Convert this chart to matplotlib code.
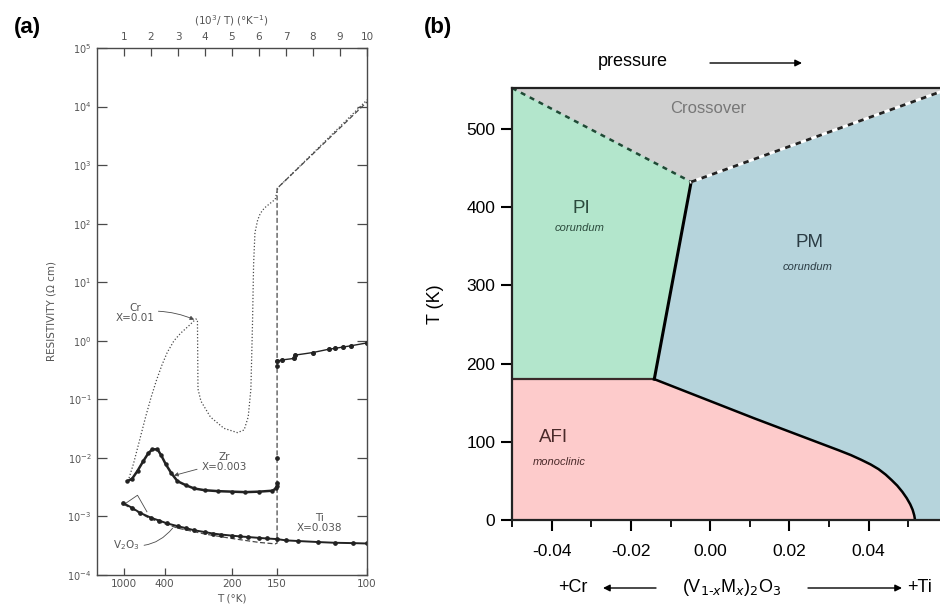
import matplotlib.pyplot as plt
from matplotlib.ticker import MultipleLocator, NullLocator, FixedLocator

plt.rcParams['font.family'] = ['Liberation Sans', 'DejaVu Sans']
plt.rcParams['axes.unicode_minus'] = False

# ---- (a) resistivity vs 10^3/T ----
cr_x = [1.15, 1.35, 1.6, 1.8, 2.0, 2.2, 2.4, 2.6, 2.85, 3.1, 3.4, 3.66, 3.72, 3.74, 3.85,
        4.2, 4.7, 5.2, 5.45, 5.6, 5.7, 5.76, 5.8, 5.85, 5.95, 6.05, 6.2, 6.4, 6.6, 6.7, 10.0]
cr_y = [4e-3, 7.9e-3, 2.2e-2, 5e-2, 0.107, 0.21, 0.38, 0.63, 1.0, 1.35, 1.8, 2.35, 2.3,
        0.15, 0.093, 0.05, 0.032, 0.027, 0.03, 0.05, 0.15, 2.0, 20, 70, 115, 150, 185, 220,
        260, 410, 1.3e4]

v2o3_x = [1.0, 2.0, 3.0, 4.0, 5.0, 6.0, 6.6, 6.67, 6.67, 10.0]
v2o3_y = [1.6e-3, 9e-4, 6.3e-4, 5.0e-4, 4.2e-4, 3.6e-4, 3.4e-4, 3.5e-4, 400, 1.2e4]
v2o3_bump_x = [1.0, 1.5, 1.85]
v2o3_bump_y = [1.6e-3, 2.3e-3, 1.2e-3]

zr_x = [1.12, 1.3, 1.5, 1.72, 1.9, 2.05, 2.24, 2.38, 2.54, 2.75, 2.98, 3.3, 3.6, 4.0,
        4.5, 5.0, 5.5, 6.0, 6.5, 6.62, 6.67]
zr_y = [4e-3, 4.4e-3, 6e-3, 8.9e-3, 1.2e-2, 1.4e-2, 1.4e-2, 1.1e-2, 7.9e-3, 5.5e-3, 4e-3,
        3.4e-3, 3.0e-3, 2.8e-3, 2.7e-3, 2.65e-3, 2.6e-3, 2.65e-3, 2.75e-3, 3.0e-3, 3.3e-3]
zr_jump_x = [6.67, 6.67, 6.67]
zr_jump_y = [3.7e-3, 1.0e-2, 0.37]
zr_met_x = [6.67, 6.85, 7.3, 7.35, 8.0, 8.6, 8.8, 9.1, 9.4, 10.0]
zr_met_y = [0.45, 0.47, 0.5, 0.57, 0.63, 0.72, 0.74, 0.78, 0.82, 0.92]

ti_x = [0.97, 1.3, 1.6, 2.0, 2.3, 2.6, 3.0, 3.3, 3.6, 4.0, 4.3, 4.6, 5.0, 5.3, 5.6, 6.0,
        6.3, 6.67, 7.0, 7.46, 8.2, 8.8, 9.5, 10.0]
ti_y = [1.7e-3, 1.4e-3, 1.15e-3, 9.5e-4, 8.5e-4, 7.6e-4, 6.8e-4, 6.3e-4, 5.8e-4, 5.4e-4,
        5.1e-4, 4.9e-4, 4.7e-4, 4.55e-4, 4.45e-4, 4.3e-4, 4.2e-4, 4.1e-4, 3.9e-4, 3.8e-4,
        3.65e-4, 3.55e-4, 3.5e-4, 3.45e-4]

top_ticks = [1, 2, 3, 4, 5, 6, 7, 8, 9, 10]
temp_pos = [1.0, 2.5, 5.0, 6.667, 10.0]
temp_labels = ['1000', '400', '200', '150', '100']

# ---- (b) phase diagram of (V1-xMx)2O3 ----
x_lo, x_hi = -0.05, 0.058
t_top = 552
afi_x = [-0.0141, 0.0111, 0.0325, 0.0355, 0.0381, 0.0405, 0.0425, 0.0443, 0.0458, 0.0472,
         0.0485, 0.0496, 0.0505, 0.0511, 0.0515, 0.0517]
afi_t = [180, 130, 89, 83, 77, 71, 65, 58, 51, 44, 36, 28, 20, 13, 6, 0]
pipm_x = [-0.0141, -0.0048]
pipm_t = [180, 432]
cross_left_x = [-0.05, -0.0048]
cross_left_t = [552, 432]
cross_right_x = [-0.0048, 0.058]
cross_right_t = [432, 547]

c_pm = '#b6d4dc'
c_pi = '#b3e6cc'
c_afi = '#fdcbcb'
c_cross = '#d0d0d0'

scan = '#4a4a4a'
fig = plt.figure(figsize=(9.4, 6.1), dpi=100)

ax1 = fig.add_axes([0.1032, 0.0574, 0.2872, 0.8639])
ax1.set_yscale('log')
ax1.set_xlim(0, 10)
ax1.set_ylim(1e-4, 1e5)
ax1.plot(cr_x, cr_y, ls=(0, (1, 1.6)), color=scan, lw=0.9)
ax1.plot(v2o3_x, v2o3_y, ls=(0, (4, 2)), color=scan, lw=0.9)
ax1.plot(v2o3_bump_x, v2o3_bump_y, color=scan, lw=0.6)
ax1.plot(zr_x, zr_y, '-', color='#222222', lw=1.8, marker='o', ms=2.2)
ax1.plot(zr_jump_x, zr_jump_y, 'o', color='#222222', ms=2.4)
ax1.plot(zr_met_x, zr_met_y, '-', color='#222222', lw=1.0, marker='o', ms=2.6)
ax1.plot(ti_x, ti_y, '-', color='#222222', lw=1.4, marker='o', ms=2.4)

for s in ax1.spines.values():
    s.set_color(scan)
    s.set_linewidth(1.0)
ax1.xaxis.tick_top()
ax1.xaxis.set_major_locator(FixedLocator(top_ticks))
ax1.xaxis.set_label_position('top')
ax1.set_xlabel('(10$^3$/ T) (°K$^{-1}$)', fontsize=7.5, color='#555555', labelpad=6,
               family='DejaVu Sans')
ax1.yaxis.set_minor_locator(NullLocator())
ax1.tick_params(axis='x', direction='in', length=6, width=0.9, color=scan, pad=4,
                labelsize=7.5, labelcolor='#555555')
ax1.tick_params(axis='y', which='both', direction='in', left=True, right=True, length=7,
                width=0.9, color=scan, pad=4, labelsize=7, labelcolor='#555555')
for lab in ax1.get_xticklabels() + ax1.get_yticklabels():
    lab.set_family('DejaVu Sans')
ax1.set_ylabel('RESISTIVITY (Ω cm)', fontsize=7.5, color='#555555', labelpad=8,
               family='DejaVu Sans')

sec = ax1.secondary_xaxis('bottom')
sec.set_xticks(temp_pos, labels=temp_labels)
sec.tick_params(direction='in', length=5, width=0.9, color=scan, pad=3, labelsize=7.5,
                labelcolor='#555555')
sec.spines['bottom'].set_visible(False)
for lab in sec.get_xticklabels():
    lab.set_family('DejaVu Sans')
sec.set_xlabel('T (°K)', fontsize=7.5, color='#555555', labelpad=3, family='DejaVu Sans')

txt = dict(fontsize=7.5, color='#555555', ha='center', va='center', family='DejaVu Sans',
           linespacing=1.0)
ax1.annotate('Cr\nX=0.01', xy=(3.6, 2.3), xytext=(1.4, 3.0),
             arrowprops=dict(arrowstyle='-|>', color=scan, lw=0.6, mutation_scale=6,
                             connectionstyle='arc3,rad=-0.15', shrinkA=1, shrinkB=0), **txt)
ax1.annotate('Zr\nX=0.003', xy=(2.85, 5e-3), xytext=(4.7, 8.5e-3),
             arrowprops=dict(arrowstyle='-|>', color=scan, lw=0.6, mutation_scale=6,
                             shrinkA=1, shrinkB=0), **txt)
ax1.text(8.25, 7.8e-4, 'Ti\nX=0.038', **txt)
ax1.annotate('V$_2$O$_3$', xy=(2.8, 6.3e-4), xytext=(1.1, 3.3e-4),
             arrowprops=dict(arrowstyle='-', color=scan, lw=0.6,
                             connectionstyle='arc3,rad=0.3', shrinkA=1, shrinkB=0), **txt)

# ---- panel (b) ----
ax2 = fig.add_axes([0.5447, 0.1475, 0.4553, 0.7082])
ax2.set_xlim(x_lo, x_hi)
ax2.set_ylim(0, t_top)

ax2.fill([x_lo, x_hi, x_hi, x_lo], [0, 0, t_top, t_top], color=c_pm, lw=0)
ax2.fill([x_lo] + cross_left_x[1:] + cross_right_x[1:] + [x_hi],
         [t_top] + cross_left_t[1:] + cross_right_t[1:] + [t_top], color=c_cross, lw=0)
ax2.fill([x_lo, x_lo, pipm_x[1], pipm_x[0]], [afi_t[0], t_top, pipm_t[1], pipm_t[0]],
         color=c_pi, lw=0)
ax2.fill([x_lo, x_lo] + afi_x, [0, afi_t[0]] + afi_t, color=c_afi, lw=0)

ax2.plot([x_lo, afi_x[0]], [afi_t[0], afi_t[0]], color='#3a2a2a', lw=1.6)
ax2.plot(afi_x, afi_t, color='black', lw=1.8)
ax2.plot(pipm_x, pipm_t, color='black', lw=2.2)
ax2.plot(cross_left_x, cross_left_t, color='#1f4a35', lw=1.8, ls=(0, (2, 2)))
ax2.plot(cross_right_x, cross_right_t, color='white', lw=2.0)
ax2.plot(cross_right_x, cross_right_t, color='#222222', lw=2.0, ls=(0, (2, 2)))

ax2.spines['right'].set_visible(False)
for k in ['left', 'bottom', 'top']:
    ax2.spines[k].set_linewidth(1.6)
    ax2.spines[k].set_color('#222222')
ax2.set_xticks([-0.04, -0.02, 0.0, 0.02, 0.04])
ax2.set_xticklabels(['-0.04', '-0.02', '0.00', '0.02', '0.04'])
ax2.xaxis.set_minor_locator(MultipleLocator(0.01))
ax2.set_yticks([0, 100, 200, 300, 400, 500])
ax2.tick_params(axis='both', which='major', direction='out', length=8, width=1.5,
                labelsize=12.5, pad=4)
ax2.tick_params(axis='x', which='major', pad=9)
ax2.tick_params(axis='x', which='minor', direction='out', length=5, width=1.3)
ax2.set_ylabel('T (K)', fontsize=13, labelpad=16)

ax2.text(-0.0005, 526, 'Crossover', fontsize=12, color='#777777', ha='center', va='center')
ax2.text(-0.0325, 398, 'PI', fontsize=13.5, color='#2b4a3c', ha='center', va='center')
ax2.text(-0.033, 373, 'corundum', fontsize=8, color='#2b4a3c', style='italic',
         ha='center', va='center')
ax2.text(0.025, 355, 'PM', fontsize=13.5, color='#2b3c44', ha='center', va='center')
ax2.text(0.0245, 323, 'corundum', fontsize=8, color='#2b3c44', style='italic',
         ha='center', va='center')
ax2.text(-0.0396, 106, 'AFI', fontsize=13.5, color='#4a2a2a', ha='center', va='center')
ax2.text(-0.038, 74, 'monoclinic', fontsize=8, color='#4a2a2a', style='italic',
         ha='center', va='center')

# annotations around panel (b)
H = 610.0
W = 940.0
fig.text(633 / W, 1 - 62 / H, 'pressure', fontsize=13, ha='center', va='center')
fig.text(573 / W, 1 - 588 / H, '+Cr', fontsize=13, ha='center', va='center')
fig.text(732 / W, 1 - 588 / H, '(V$_{1\\text{-}x}$M$_x$)$_2$O$_3$', fontsize=13,
         ha='center', va='center')
fig.text(920 / W, 1 - 588 / H, '+Ti', fontsize=13, ha='center', va='center')
arrows = [((710, 63), (802, 63)), ((656, 588), (603, 588)), ((808, 588), (902, 588))]
for (xa, ya), (xb, yb) in arrows:
    fig.add_artist(plt.Annotation('', xy=(xb / W, 1 - yb / H), xytext=(xa / W, 1 - ya / H),
                                  xycoords='figure fraction', textcoords='figure fraction',
                                  arrowprops=dict(arrowstyle='-|>', color='black', lw=1.0,
                                                  mutation_scale=10, shrinkA=0, shrinkB=0)))

fig.text(27 / W, 1 - 28 / H, '(a)', fontsize=16, fontweight='bold', ha='center', va='center')
fig.text(438 / W, 1 - 28 / H, '(b)', fontsize=16, fontweight='bold', ha='center', va='center')

fig.savefig('out.png', dpi=100)
